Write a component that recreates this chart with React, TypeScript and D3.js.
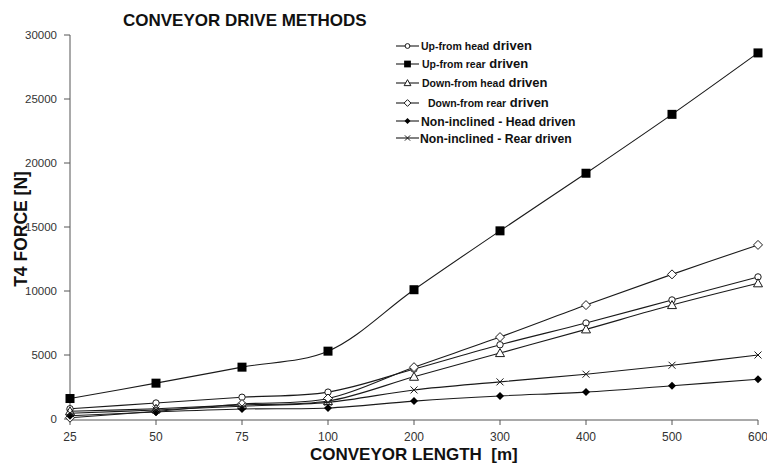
import React from "react";
import * as d3 from "d3";

// Conveyor length categories (evenly spaced on the axis)
const lengths = ["25", "50", "75", "100", "200", "300", "400", "500", "600"];

// T4 force [N] for each drive method
const upFromHead = [800, 1250, 1700, 2100, 3900, 5800, 7500, 9300, 11100];
const upFromRear = [1600, 2800, 4050, 5300, 10100, 14700, 19200, 23800, 28600];
const downFromHead = [600, 800, 1100, 1400, 3300, 5150, 7000, 8900, 10600];
const downFromRear = [100, 600, 1170, 1600, 4050, 6400, 8900, 11300, 13600];
const nonInclinedHead = [250, 550, 780, 860, 1400, 1800, 2100, 2600, 3100];
const nonInclinedRear = [450, 700, 1000, 1300, 2270, 2900, 3500, 4200, 5000];

const yTicks = [0, 5000, 10000, 15000, 20000, 25000, 30000];

type MarkerKind = "circle" | "square" | "triangle" | "diamond" | "filledDiamond" | "cross";

interface Series {
  prefix: string;
  suffix: string;
  values: number[];
  marker: MarkerKind;
  small: boolean;
  textX: number;
}

const series: Series[] = [
  { prefix: "Up-from head", suffix: " driven", values: upFromHead, marker: "circle", small: true, textX: 421 },
  { prefix: "Up-from rear", suffix: " driven", values: upFromRear, marker: "square", small: true, textX: 422 },
  { prefix: "Down-from head", suffix: " driven", values: downFromHead, marker: "triangle", small: true, textX: 422 },
  { prefix: "Down-from rear", suffix: " driven", values: downFromRear, marker: "diamond", small: true, textX: 428 },
  { prefix: "Non-inclined - Head", suffix: " driven", values: nonInclinedHead, marker: "filledDiamond", small: false, textX: 421 },
  { prefix: "Non-inclined - Rear", suffix: " driven", values: nonInclinedRear, marker: "cross", small: false, textX: 420 },
];

const FONT = "Arial, 'Liberation Sans', Helvetica, sans-serif";
const INK = "#1a1a1a";

function Marker({ kind, x, y, scale = 1 }: { kind: MarkerKind; x: number; y: number; scale?: number }) {
  const s = scale;
  switch (kind) {
    case "circle":
      return <circle cx={x} cy={y} r={3.2 * s} fill="#fff" stroke={INK} strokeWidth={1} />;
    case "square":
      return <rect x={x - 4.5 * s} y={y - 4.5 * s} width={9 * s} height={9 * s} fill="#000" />;
    case "triangle":
      return (
        <path
          d={`M${x},${y - 4.5 * s}L${x + 4.5 * s},${y + 3.5 * s}L${x - 4.5 * s},${y + 3.5 * s}Z`}
          fill="#fff"
          stroke={INK}
          strokeWidth={1}
        />
      );
    case "diamond":
      return (
        <path
          d={`M${x},${y - 4.5 * s}L${x + 4.5 * s},${y}L${x},${y + 4.5 * s}L${x - 4.5 * s},${y}Z`}
          fill="#fff"
          stroke={INK}
          strokeWidth={1}
        />
      );
    case "filledDiamond":
      return (
        <path
          d={`M${x},${y - 4 * s}L${x + 4 * s},${y}L${x},${y + 4 * s}L${x - 4 * s},${y}Z`}
          fill="#000"
        />
      );
    case "cross":
      return (
        <g stroke={INK} strokeWidth={1}>
          <path d={`M${x - 3.5 * s},${y - 3.5 * s}L${x + 3.5 * s},${y + 3.5 * s}`} />
          <path d={`M${x - 3.5 * s},${y + 3.5 * s}L${x + 3.5 * s},${y - 3.5 * s}`} />
        </g>
      );
  }
}

export default function App() {
  const width = 767;
  const height = 466;

  const x = d3.scalePoint<string>().domain(lengths).range([70, 758]);
  const y = d3.scaleLinear().domain([0, 30000]).range([419, 35]);

  const line = d3
    .line<number>()
    .x((_, i) => x(lengths[i]) as number)
    .y((d) => y(d))
    .curve(d3.curveCatmullRom);

  const legendY = [46, 64, 83, 103, 121, 138];

  return (
    <svg
      width={width}
      height={height}
      style={{ position: "absolute", left: 0, top: 0, background: "#fff" }}
      fontFamily={FONT}
    >
      <rect width={width} height={height} fill="#fff" />

      {/* title */}
      <text x={123} y={26} fontSize={17} fontWeight="bold" fill="#111">
        CONVEYOR DRIVE METHODS
      </text>

      {/* y axis */}
      <line x1={70} x2={70} y1={y(30000)} y2={y(0)} stroke="#555" strokeWidth={1} />
      {yTicks.map((t) => (
        <g key={t}>
          <line x1={64} x2={70} y1={y(t)} y2={y(t)} stroke="#555" strokeWidth={1} />
          <text x={57} y={y(t) + 4} fontSize={11.5} textAnchor="end" fill="#333">
            {t}
          </text>
        </g>
      ))}

      {/* x axis */}
      <line x1={70} x2={758} y1={420} y2={420} stroke="#555" strokeWidth={1} />
      {lengths.map((c) => (
        <g key={c}>
          <line x1={x(c)} x2={x(c)} y1={420} y2={425} stroke="#555" strokeWidth={1} />
          <text x={x(c)} y={441} fontSize={12} textAnchor="middle" fill="#333">
            {c}
          </text>
        </g>
      ))}

      {/* axis titles */}
      <text
        transform="translate(27,229) rotate(-90)"
        fontSize={17.5}
        fontWeight="bold"
        textAnchor="middle"
        fill="#111"
      >
        T4 FORCE [N]
      </text>
      <text x={310} y={460} fontSize={17} fontWeight="bold" fill="#111" style={{ whiteSpace: "pre" }}>
        {"CONVEYOR LENGTH  [m]"}
      </text>

      {/* series */}
      {series.map((s) => (
        <g key={s.prefix}>
          <path d={line(s.values) ?? ""} fill="none" stroke={INK} strokeWidth={1.1} />
          {s.values.map((v, i) => (
            <Marker key={i} kind={s.marker} x={x(lengths[i]) as number} y={y(v)} />
          ))}
        </g>
      ))}

      {/* legend */}
      {series.map((s, i) => {
        const ly = legendY[i];
        return (
          <g key={"lg" + s.prefix}>
            <line x1={396} x2={419} y1={ly} y2={ly} stroke={INK} strokeWidth={1.1} />
            <Marker kind={s.marker} x={407.5} y={ly} scale={0.75} />
            {s.small ? (
              <text x={s.textX} y={ly + 4} fontWeight="bold" fill="#111">
                <tspan fontSize={10.5}>{s.prefix}</tspan>
                <tspan fontSize={13}>{s.suffix}</tspan>
              </text>
            ) : (
              <text x={s.textX} y={ly + 4.5} fontWeight="bold" fontSize={12.2} fill="#111">
                {s.prefix + s.suffix}
              </text>
            )}
          </g>
        );
      })}
    </svg>
  );
}
